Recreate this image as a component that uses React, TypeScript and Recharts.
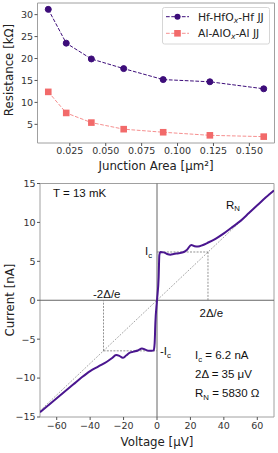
import React from 'react';
import {
  LineChart,
  ComposedChart,
  Line,
  XAxis,
  YAxis,
  ReferenceLine,
  ReferenceArea,
} from 'recharts';

// ---------- Top panel data ----------
const junctionArea = [0.01, 0.0225, 0.04, 0.0625, 0.09, 0.1225, 0.16];
const hfResistance = [31.2, 23.5, 19.9, 17.7, 15.2, 14.7, 13.1];
const alResistance = [12.4, 7.6, 5.4, 3.9, 3.2, 2.5, 2.2];
const areaTicks = [0.025, 0.05, 0.075, 0.1, 0.125, 0.15];
const resistanceTicks = [5, 10, 15, 20, 25, 30];

// ---------- Bottom panel data ----------
const ivVoltage = [
  -70, -65, -60, -55, -50, -45, -40, -35, -30, -27, -24.5, -22.5, -20.5, -18.5, -16.5, -14,
  -11.5, -9, -7, -5, -3, -2, -1.4, -1, 0, 1, 1.4, 2, 4, 6, 8, 10, 13, 16, 18, 20.5, 22.5,
  24.5, 27.5, 30, 35, 40, 45, 50, 55, 60, 65, 70,
];
const ivCurrent = [
  -14.4, -13.5, -12.6, -11.7, -10.8, -9.9, -9.1, -8.5, -7.9, -7.45, -7.05, -7.15, -7.4, -7.1,
  -6.75, -6.6, -6.45, -6.2, -6.35, -6.5, -6.5, -6.45, -5.5, -3, 0, 3, 5.8, 6.2, 6.15, 5.95,
  5.85, 5.95, 6.05, 6.2, 6.5, 7.1, 6.95, 6.9, 7.1, 7.35, 7.9, 8.6, 9.4, 10.2, 11.2, 12.2, 13.2,
  14.1,
];
const voltageTicks = [-60, -40, -20, 0, 20, 40, 60];
const currentTicks = [-15, -10, -5, 0, 5, 10, 15];
const criticalCurrentPos = 6.2;
const criticalCurrentNeg = -6.5;
const gapVoltagePos = 30.5;
const gapVoltageNeg = -32;
const normalLine = [
  { x: -70, y: -14.2 },
  { x: 70, y: 14.2 },
];

const topData = junctionArea.map((a, i) => ({ area: a, hf: hfResistance[i], al: alResistance[i] }));
const ivData = ivVoltage.map((v, i) => ({ v, i: ivCurrent[i] }));

const DV = 'DejaVu Sans, sans-serif';
const AR = 'Liberation Sans, Arial, sans-serif';
const HF_COLOR = '#3d0d7a';
const AL_COLOR = '#f26a6a';
const IV_COLOR = '#4a168f';
const FRAME = '#a0a0a0';
const tickStyle = { fontSize: 9.5, fill: '#333', fontFamily: DV };
const minus = (v: number) => String(v).replace('-', '\u2212');

const HfDot = (props: any) => {
  const { cx, cy, index } = props;
  return <circle key={`hf-${index}`} cx={cx} cy={cy} r={3} fill={HF_COLOR} stroke={HF_COLOR} />;
};
const AlDot = (props: any) => {
  const { cx, cy, index } = props;
  return (
    <rect key={`al-${index}`} x={cx - 3.3} y={cy - 3.3} width={6.6} height={6.6} fill={AL_COLOR} />
  );
};

export default function App() {
  return (
    <div style={{ position: 'absolute', left: 0, top: 0, width: 278, height: 453, background: '#fff' }}>
      <div style={{ position: 'absolute', left: 0, top: 0 }}>
        <LineChart
          width={278}
          height={180}
          data={topData}
          margin={{ top: 3, right: 3.5, bottom: 0, left: 0 }}
        >
          <XAxis
            dataKey="area"
            type="number"
            domain={[0.0025, 0.1675]}
            allowDataOverflow
            ticks={areaTicks}
            interval={0}
            tickFormatter={(v: number) => v.toFixed(3)}
            tick={tickStyle}
            tickSize={3}
            tickMargin={1}
            tickLine={{ stroke: '#555' }}
            axisLine={false}
            height={37}
          />
          <YAxis
            type="number"
            domain={[0.75, 32.65]}
            allowDataOverflow
            ticks={resistanceTicks}
            interval={0}
            tick={tickStyle}
            tickSize={3}
            tickMargin={1.5}
            tickLine={{ stroke: '#555' }}
            axisLine={false}
            width={37.5}
          />
          <ReferenceArea
            x1={0.0025}
            x2={0.1675}
            y1={0.75}
            y2={32.65}
            fill="none"
            fillOpacity={0}
            stroke={FRAME}
            strokeWidth={1}
          />
          <Line
            dataKey="hf"
            stroke={HF_COLOR}
            strokeWidth={1}
            strokeDasharray="3.7 1.6"
            dot={HfDot}
            activeDot={false}
            isAnimationActive={false}
            type="linear"
          />
          <Line
            dataKey="al"
            stroke={AL_COLOR}
            strokeOpacity={0.75}
            strokeWidth={1}
            strokeDasharray="3.7 1.6"
            dot={AlDot}
            activeDot={false}
            isAnimationActive={false}
            type="linear"
          />
        </LineChart>
      </div>

      <div style={{ position: 'absolute', left: 0, top: 165 }}>
        <ComposedChart
          width={278}
          height={288}
          data={ivData}
          margin={{ top: 18.5, right: 4, bottom: 0, left: 0 }}
        >
          <XAxis
            dataKey="v"
            type="number"
            domain={[-70, 70]}
            allowDataOverflow
            ticks={voltageTicks}
            interval={0}
            tickFormatter={minus}
            tick={tickStyle}
            tickSize={3}
            tickMargin={2}
            tickLine={{ stroke: '#555' }}
            axisLine={false}
            height={36}
          />
          <YAxis
            type="number"
            domain={[-15, 15]}
            allowDataOverflow
            ticks={currentTicks}
            interval={0}
            tickFormatter={minus}
            tick={tickStyle}
            tickSize={3}
            tickMargin={1.5}
            tickLine={{ stroke: '#555' }}
            axisLine={false}
            width={40}
          />
          <ReferenceArea
            x1={-70}
            x2={70}
            y1={-15}
            y2={15}
            fill="none"
            fillOpacity={0}
            stroke={FRAME}
            strokeWidth={1}
          />
          <ReferenceLine x={0} stroke="#666" strokeWidth={1} />
          <ReferenceLine y={0} stroke="#666" strokeWidth={1} />
          <ReferenceLine segment={normalLine} stroke="#666" strokeWidth={0.8} strokeDasharray="1 1.4" />
          <ReferenceLine
            segment={[
              { x: 0, y: criticalCurrentPos },
              { x: gapVoltagePos, y: criticalCurrentPos },
            ]}
            stroke="#777"
            strokeWidth={0.8}
            strokeDasharray="2 1.3"
          />
          <ReferenceLine
            segment={[
              { x: gapVoltagePos, y: criticalCurrentPos },
              { x: gapVoltagePos, y: 0 },
            ]}
            stroke="#777"
            strokeWidth={0.8}
            strokeDasharray="2 1.3"
          />
          <ReferenceLine
            segment={[
              { x: gapVoltageNeg, y: criticalCurrentNeg },
              { x: 0, y: criticalCurrentNeg },
            ]}
            stroke="#777"
            strokeWidth={0.8}
            strokeDasharray="2 1.3"
          />
          <ReferenceLine
            segment={[
              { x: gapVoltageNeg, y: criticalCurrentNeg },
              { x: gapVoltageNeg, y: 0 },
            ]}
            stroke="#777"
            strokeWidth={0.8}
            strokeDasharray="2 1.3"
          />
          <Line
            dataKey="i"
            stroke={IV_COLOR}
            strokeWidth={2}
            dot={false}
            activeDot={false}
            isAnimationActive={false}
            type="monotone"
          />
        </ComposedChart>
      </div>

      <svg
        width={278}
        height={453}
        style={{ position: 'absolute', left: 0, top: 0, pointerEvents: 'none' }}
      >
        {/* top panel titles */}
        <text x={156} y={170.3} textAnchor="middle" fontFamily={DV} fontSize={11.8} fill="#222">
          Junction Area [μm²]
        </text>
        <text
          transform="translate(12.5,70) rotate(-90)"
          textAnchor="middle"
          fontFamily={DV}
          fontSize={11.8}
          fill="#222"
        >
          Resistance [kΩ]
        </text>

        {/* legend */}
        <rect x={162.5} y={7.5} width={107} height={36.5} rx={2} fill="#fff" fillOpacity={0.85} stroke="#d6d6d6" />
        <line x1={166} y1={16.7} x2={189} y2={16.7} stroke={HF_COLOR} strokeDasharray="3.7 1.6" />
        <circle cx={177.5} cy={16.7} r={3} fill={HF_COLOR} />
        <text x={198} y={20.6} fontFamily={DV} fontSize={10.8} fill="#222">
          Hf-HfO
          <tspan fontSize={7.6} fontStyle="italic" dy={2.2}>x</tspan>
          <tspan dy={-2.2}>-Hf JJ</tspan>
        </text>
        <line x1={166} y1={33.3} x2={189} y2={33.3} stroke={AL_COLOR} strokeOpacity={0.75} strokeDasharray="3.7 1.6" />
        <rect x={174.2} y={30} width={6.6} height={6.6} fill={AL_COLOR} />
        <text x={198} y={37.2} fontFamily={DV} fontSize={10.8} fill="#222">
          Al-AlO
          <tspan fontSize={7.6} fontStyle="italic" dy={2.2}>x</tspan>
          <tspan dy={-2.2}>-Al JJ</tspan>
        </text>

        {/* bottom panel titles */}
        <text x={157} y={445.5} textAnchor="middle" fontFamily={DV} fontSize={11.8} fill="#222">
          Voltage [μV]
        </text>
        <text
          transform="translate(14,300) rotate(-90)"
          textAnchor="middle"
          fontFamily={DV}
          fontSize={11.8}
          fill="#222"
        >
          Current [nA]
        </text>

        {/* annotations */}
        <g fontFamily={AR} fontSize={11.5} fill="#111">
          <text x={53} y={197}>T = 13 mK</text>
          <text x={226} y={208.5}>
            R<tspan fontSize={7.8} dy={2.5}>N</tspan>
          </text>
          <text x={145} y={255}>
            I<tspan fontSize={7.8} dy={2.5}>c</tspan>
          </text>
          <text x={93} y={298}>-2Δ/e</text>
          <text x={199.5} y={316.5}>2Δ/e</text>
          <text x={160} y={355}>
            -I<tspan fontSize={7.8} dy={2.5}>c</tspan>
          </text>
          <text x={195} y={359}>
            I<tspan fontSize={7.8} dy={2.5}>c</tspan>
            <tspan dy={-2.5}> = 6.2 nA</tspan>
          </text>
          <text x={195} y={377.5}>2Δ = 35 μV</text>
          <text x={195} y={397}>
            R<tspan fontSize={7.8} dy={2.5}>N</tspan>
            <tspan dy={-2.5}> = 5830 Ω</tspan>
          </text>
        </g>
      </svg>
    </div>
  );
}
